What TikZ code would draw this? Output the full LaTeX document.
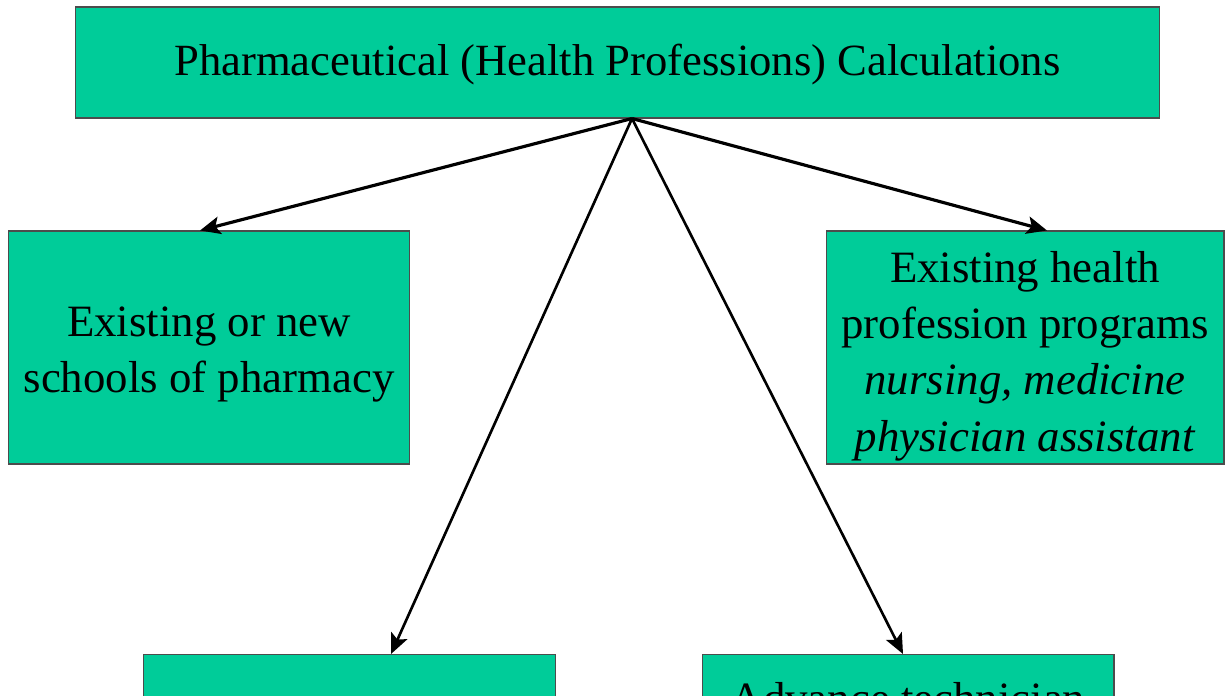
\documentclass[tikz,border=0pt]{standalone}
\usepackage{fontspec}
\setmainfont{Liberation Serif}
\usetikzlibrary{arrows.meta}

\definecolor{boxgreen}{RGB}{0,204,153}

\begin{document}
\begin{tikzpicture}[x=0.02cm, y=-0.02cm, -{Stealth[length=11.5pt,width=10pt,inset=2.5pt]}, semithick]

\tikzstyle{box}=[draw=black!70, line width=0.6pt, fill=boxgreen, align=center, inner sep=0pt, font=\fontsize{25.5}{32}\selectfont]
\tikzstyle{short}=[line width=1.8pt]
\tikzstyle{long}=[line width=1.5pt]

\useasboundingbox (0,0) rectangle (1227,696);
\clip (0,0) rectangle (1227,696);

\node[box, minimum width=21.7cm, minimum height=2.22cm, font=\fontsize{25.4}{30}\selectfont] (title) at (617.5,62.5) {\rule{0pt}{20pt}Pharmaceutical (Health Professions) Calculations};
\node[box, minimum width=8.04cm, minimum height=4.66cm] (schools) at (209,347.5) {\rule{0pt}{25pt}Existing or new\\schools of pharmacy};
\node[box, minimum width=7.96cm, minimum height=4.66cm] (programs) at (1025,347.5) {\rule{0pt}{27.5pt}Existing health\\profession programs\\\textit{nursing, medicine}\\\textit{physician assistant}};
\node[box, anchor=north, minimum width=8.26cm, minimum height=4cm] (lower) at (349.5,654) {};
\node[box, anchor=north, minimum width=8.24cm, inner ysep=0.55cm] (technician) at (908,654) {Advance technician};

\coordinate (hub) at ([xshift=0.29cm]title.south);

\path
(hub) edge [short] ([xshift=-0.18cm]schools.north)
(hub) edge [short] ([xshift=0.44cm]programs.north)
(hub) edge [long] ([xshift=0.83cm]lower.north)
(hub) edge [long] ([xshift=-0.1cm]technician.north);

\end{tikzpicture}
\end{document}
